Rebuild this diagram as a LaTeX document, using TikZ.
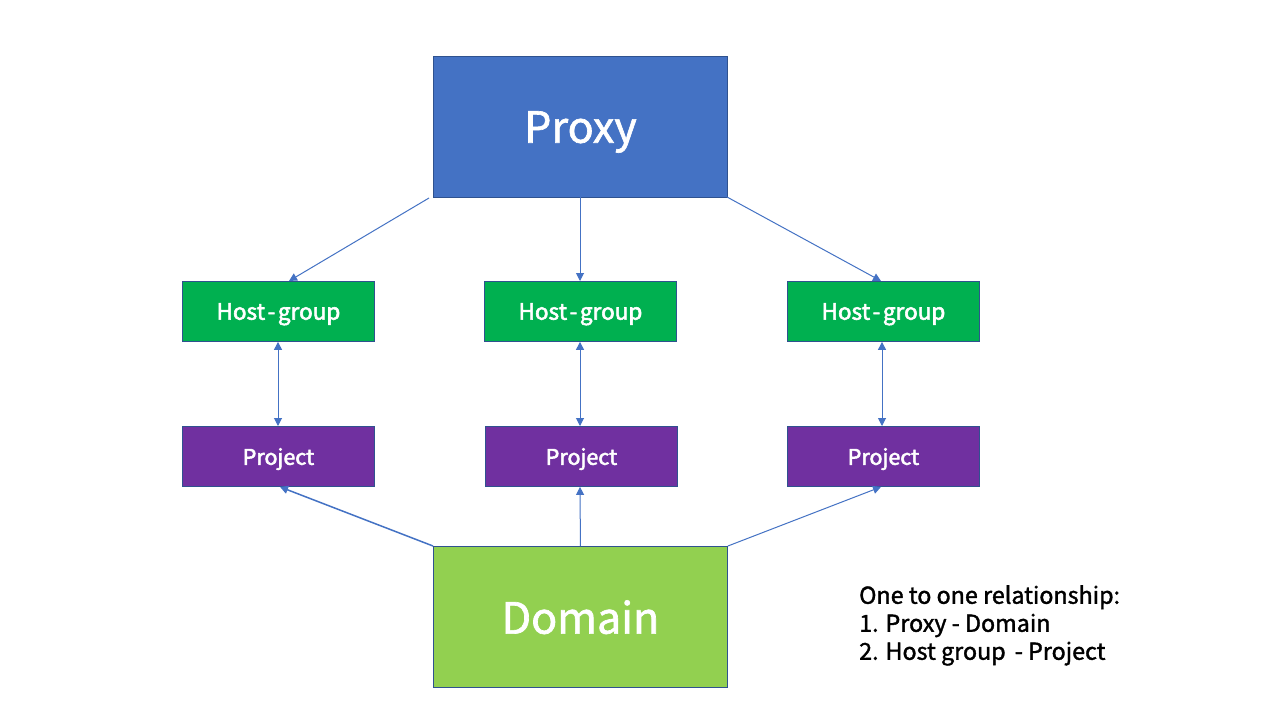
\documentclass[tikz,border=0pt]{standalone}
\usepackage{fontspec}
\setmainfont{Noto Sans CJK SC}
\newfontfamily\medfont[FakeBold=1.5]{Noto Sans CJK SC}
\newfontfamily\semifont[FakeBold=2.5]{Noto Sans CJK SC}
\usetikzlibrary{arrows.meta}
\definecolor{proxyblue}{HTML}{4472C4}
\definecolor{edgeblue}{HTML}{2F528F}
\definecolor{hostgreen}{HTML}{00B050}
\definecolor{projpurple}{HTML}{7030A0}
\definecolor{domgreen}{HTML}{92D050}
\newcommand{\hg}{Host\kern2.5pt-\kern2.5pt group}
\tikzset{
  box/.style={draw=edgeblue, line width=0.9pt, text=white, inner sep=0pt, anchor=north west},
  bigbox/.style={box, minimum width=294pt, minimum height=141pt, font=\fontsize{43}{50}\medfont, text depth=-6pt},
  hostbox/.style={box, fill=hostgreen, minimum width=192pt, minimum height=60pt, font=\fontsize{22.5}{26}\semifont, text depth=-3pt},
  projbox/.style={box, fill=projpurple, minimum width=192pt, minimum height=60pt, font=\fontsize{21.5}{25}\semifont, text depth=-2pt},
  conn/.style={draw=proxyblue, line width=1pt, -{Triangle[length=8pt,width=8pt]}},
  dconn/.style={draw=proxyblue, line width=1pt, {Triangle[length=8pt,width=8pt]}-{Triangle[length=8pt,width=8pt]}},
  legend/.style={anchor=north west, align=left, inner sep=0pt, font=\fontsize{23.3}{28}\medfont}
}
\begin{document}
\begin{tikzpicture}[x=1pt,y=-1pt]
\useasboundingbox (0,0) rectangle (1280,720);
\fill[white] (0,0) rectangle (1280,720);
\node[bigbox, fill=proxyblue] (proxy) at (433,56) {Proxy};
\node[bigbox, fill=domgreen] (domain) at (433,546) {Domain};
\node[hostbox] (h1) at (182,281) {\hg};
\node[hostbox] (h2) at (484,281) {\hg};
\node[hostbox] (h3) at (787,281) {\hg};
\node[projbox] (p1) at (182,426) {Project};
\node[projbox] (p2) at (485,426) {Project};
\node[projbox] (p3) at (787,426) {Project};
\coordinate (pa) at (429,198);
\coordinate (pb) at (580,197);
\coordinate (pc) at (727,197);
\draw[conn] (pa) -- (h1.north west -| 289,0);
\draw[conn] (pb) -- (h2.north west -| 580,0);
\draw[conn] (pc) -- (h3.north west -| 881,0);
\draw[dconn] (h1.south west -| 278,0) -- (p1.north west -| 278,0);
\draw[dconn] (h2.south west -| 580,0) -- (p2.north west -| 580,0);
\draw[dconn] (h3.south west -| 882,0) -- (p3.north west -| 882,0);
\draw[conn, line width=1.5pt] (domain.north west) -- (p1.south west -| 280,0);
\draw[conn] (domain.north) -- (p2.south west -| 580,0);
\draw[conn] (domain.north east) -- (p3.south west -| 881,0);
\node[legend] (leg) at (859,585) {One to one relationship:\\1. Proxy - Domain\\2. Host group \,- Project};
\end{tikzpicture}
\end{document}
